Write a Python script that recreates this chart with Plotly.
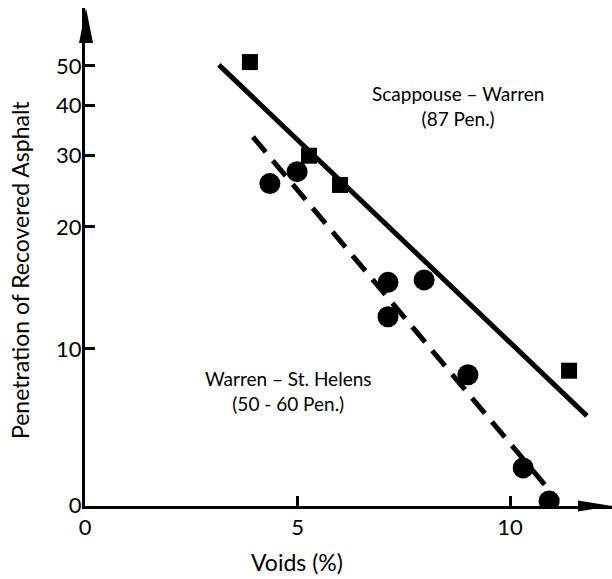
import math
import plotly.graph_objects as go

# ---- data ----
# Scappouse - Warren (87 Pen.) : squares
sw_voids = [3.88, 5.27, 6.00, 11.39]
sw_pen = [51.1, 30.0, 25.4, 8.83]
# Warren - St. Helens (50 - 60 Pen.) : circles
wsh_voids = [4.35, 4.99, 7.13, 7.98, 7.13, 9.01, 10.31, 10.92]
wsh_pen = [25.6, 27.4, 14.6, 14.8, 12.0, 8.63, 5.08, 4.21]
# fitted lines (end points)
sw_fit_x = [3.15, 11.81]
sw_fit_y = [50.3, 6.83]
wsh_fit_x = [3.95, 11.13]
wsh_fit_y = [33.4, 4.22]

x_tickvals = [0, 5, 10]
x_ticktext = ["0", "5", "10"]
y_tickvals = [4.1, 10, 20, 30, 40, 50]
y_ticktext = ["0", "10", "20", "30", "40", "50"]

FONT = "Lato"
W, H = 612, 579
ML, MR, MT, MB = 85, 0, 8, 73
PW, PH = W - ML - MR, H - MT - MB

fig = go.Figure()
fig.add_trace(go.Scatter(x=sw_fit_x, y=sw_fit_y, mode="lines",
                         line=dict(color="black", width=5), showlegend=False))
fig.add_trace(go.Scatter(x=wsh_fit_x, y=wsh_fit_y, mode="lines",
                         line=dict(color="black", width=5, dash="20px,11px"), showlegend=False))
fig.add_trace(go.Scatter(x=sw_voids, y=sw_pen, mode="markers",
                         marker=dict(symbol="square", size=16, color="black"), showlegend=False))
fig.add_trace(go.Scatter(x=wsh_voids, y=wsh_pen, mode="markers",
                         marker=dict(symbol="circle", size=21, color="black"), showlegend=False))

fig.update_layout(
    width=W, height=H,
    margin=dict(l=ML, r=MR, t=MT, b=MB),
    paper_bgcolor="white", plot_bgcolor="white",
    font=dict(family=FONT, size=19, color="black"),
    showlegend=False,
    xaxis=dict(range=[0, 12.4], showgrid=False, zeroline=False,
               showline=True, linecolor="black", linewidth=3,
               ticks="inside", ticklen=10, tickwidth=3, tickcolor="black",
               tickvals=x_tickvals, ticktext=x_ticktext, ticklabelstandoff=0,
               tickfont=dict(size=22)),
    yaxis=dict(type="log", range=[math.log10(4.09), 1.842], showgrid=False, zeroline=False,
               showline=True, linecolor="black", linewidth=3,
               ticks="inside", ticklen=10, tickwidth=3, tickcolor="black",
               tickvals=y_tickvals, ticktext=y_ticktext, ticklabelstandoff=-4,
               tickfont=dict(size=22)),
)

# axis arrowheads
def px_x(p):
    return (p - ML) / PW

def px_y(p):
    return (H - MB - p) / PH

fig.add_shape(type="path", xref="paper", yref="paper",
              path=f"M {px_x(79)} {px_y(43)} L {px_x(86)} {px_y(8)} L {px_x(93)} {px_y(43)} Z",
              fillcolor="black", line=dict(width=0))
fig.add_shape(type="path", xref="paper", yref="paper",
              path=f"M {px_x(578)} {px_y(500.5)} L {px_x(612)} {px_y(506)} L {px_x(578)} {px_y(511.5)} Z",
              fillcolor="black", line=dict(width=0))

# labels
fig.add_annotation(x=8.78, y=1.600, xref="x", yref="y",
                   text="Scappouse – Warren<br>(87 Pen.)", showarrow=False,
                   xanchor="center", yanchor="middle",
                   align="center", font=dict(size=19))
fig.add_annotation(x=4.78, y=0.896, xref="x", yref="y",
                   text="Warren – St. Helens<br>(50 - 60 Pen.)", showarrow=False,
                   xanchor="center", yanchor="middle",
                   align="center", font=dict(size=19))
fig.add_annotation(x=px_x(297), y=px_y(562), xref="paper", yref="paper",
                   xanchor="center", yanchor="middle",
                   text="Voids (%)", showarrow=False, font=dict(size=23))
fig.add_annotation(x=px_x(20), y=px_y(270), xref="paper", yref="paper",
                   xanchor="center", yanchor="middle",
                   text="Penetration of Recovered Asphalt", showarrow=False,
                   textangle=-90, font=dict(size=23))

fig.write_html("out.html")
